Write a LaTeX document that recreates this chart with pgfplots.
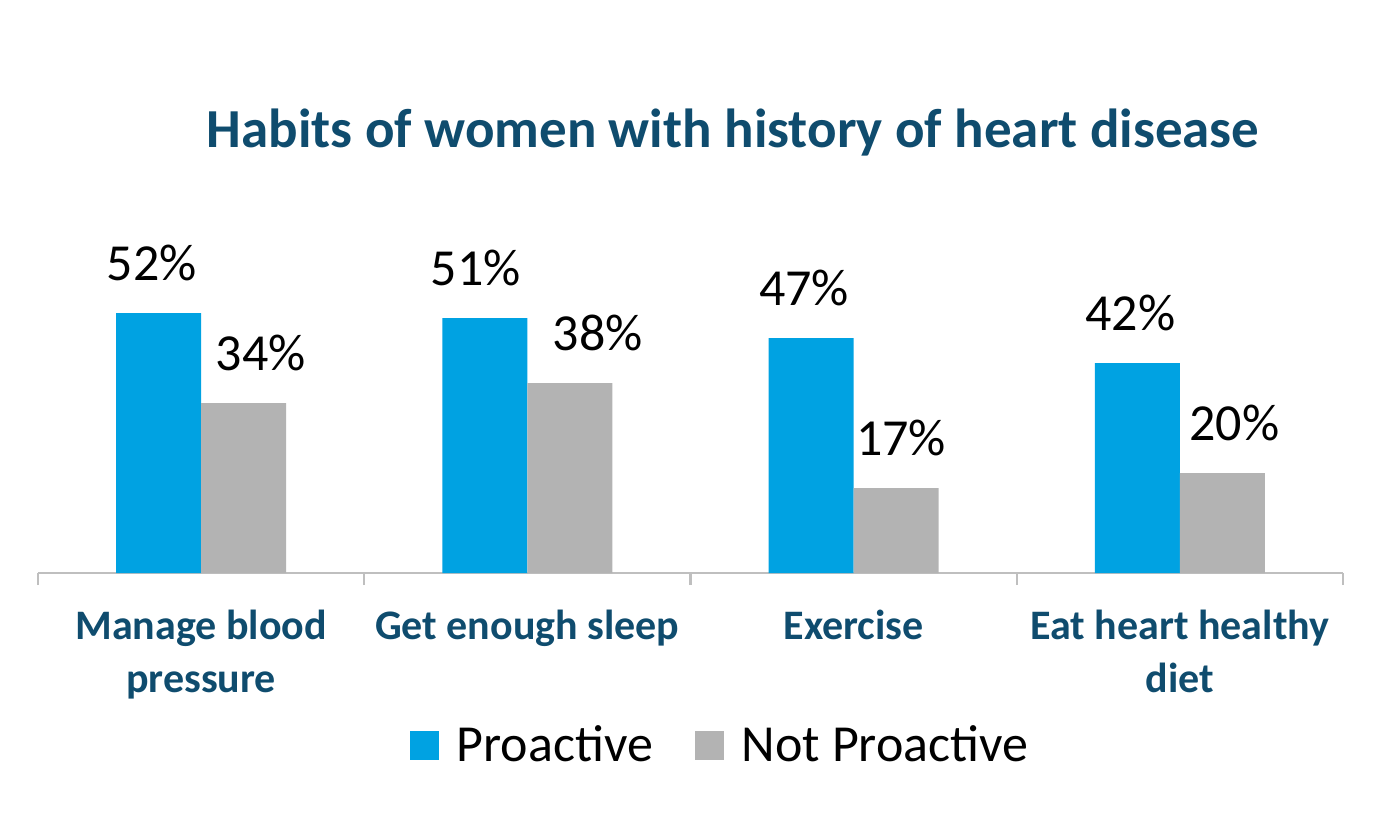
\documentclass[border=0pt]{standalone}
\usepackage{pgfplots}
\pgfplotsset{compat=1.18}
\usepackage{fontspec}
\setmainfont{Carlito}

\definecolor{problue}{HTML}{00A2E2}
\definecolor{notgray}{HTML}{B3B3B3}
\definecolor{titleteal}{HTML}{0F4C6E}
\definecolor{axisgray}{HTML}{BFBFBF}

% share (%) per habit; dxp/dxn nudge the value labels sideways (pt)
\pgfplotstableread{
x pro notpro dxp dxn
0 52 34 -3.5 8.5
1 51 38 -4.5 14
2 47 17 -3.5 2.5
3 42 20 -3.5 6
}\habits

\begin{document}
\begin{tikzpicture}
\useasboundingbox (-19pt,-126.5pt) rectangle ++(694pt,413pt);
\begin{axis}[
  at={(0,0)}, anchor=south west,
  scale only axis,
  width=652.5pt, height=150pt,
  ybar=0pt, bar width=42.5pt,
  xmin=-0.5, xmax=3.5, ymin=0, ymax=60,
  axis x line*=bottom, axis y line=none,
  x axis line style={draw=axisgray, line width=1.2pt, -},
  xtick={0,1,2,3},
  xticklabels={{Manage blood\\pressure},{Get enough sleep},{Exercise},{Eat heart healthy\\diet}},
  major tick length=0pt,
  minor xtick={-0.5,0.5,1.5,2.5,3.5},
  minor tick length=6pt,
  tick align=outside,
  minor tick style={draw=axisgray, line width=1.2pt},
  xticklabel style={align=center, font=\fontsize{21}{26.5}\selectfont\bfseries, text=titleteal, yshift=-15pt},
  /pgf/number format/assume math mode=true,
  nodes near coords={\pgfmathprintnumber{\pgfplotspointmeta}\%},
  every node near coord/.append style={font=\fontsize{26}{30}\selectfont, text=black, anchor=center, yshift=25pt, xshift=\dx pt},
  title={Habits of women with history of heart disease},
  title style={at={(0.5326,1)}, anchor=center, yshift=64pt, font=\fontsize{27.5}{32}\selectfont\bfseries, text=titleteal},
  legend columns=2,
  legend style={at={(0.5287,0)}, anchor=center, yshift=-86pt, draw=none, fill=none,
    font=\fontsize{26}{30}\selectfont,
    /tikz/every odd column/.append style={column sep=0pt},
    /tikz/every even column/.append style={column sep=12pt},
    nodes={inner xsep=9pt}},
  legend image code/.code={\fill[#1] (0pt,-7.25pt) rectangle (14.5pt,7.25pt);},
]
\addplot[fill=problue, draw=none, visualization depends on={\thisrow{dxp} \as \dx}] table[x=x, y=pro] {\habits};
\addplot[fill=notgray, draw=none, visualization depends on={\thisrow{dxn} \as \dx}] table[x=x, y=notpro] {\habits};
\legend{Proactive, Not Proactive}
\end{axis}
\end{tikzpicture}
\end{document}
